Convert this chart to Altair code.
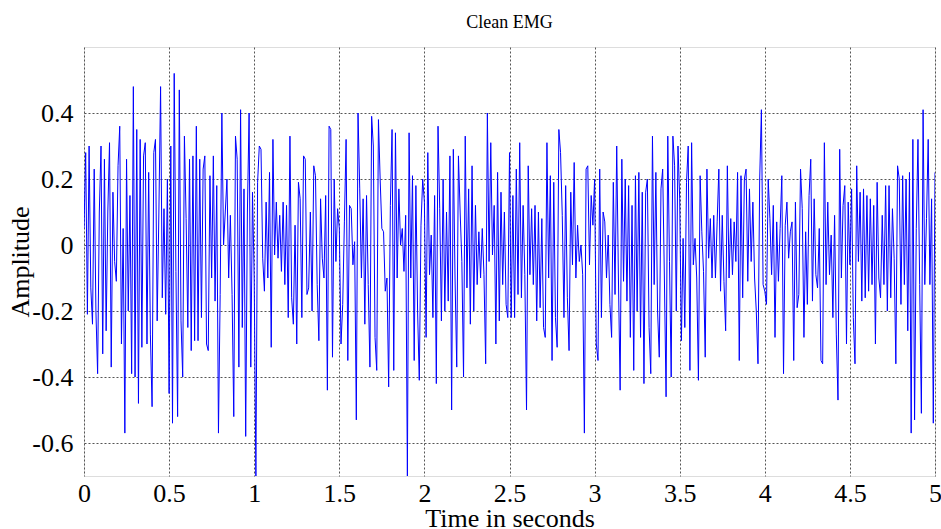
import numpy as np
import pandas as pd
import altair as alt

# Amplitude samples, 0.01 s apart, one list per half second
amp_00_05 = [0.05, 0.28, -0.21, 0.30, -0.13, -0.24, 0.23, -0.20, -0.39, 0.10,
             0.30, -0.33, 0.26, -0.26, 0.10, 0.31, -0.37, 0.16, -0.05, -0.11,
             0.24, 0.36, -0.30, 0.05, -0.57, 0.26, -0.20, 0.15, -0.39, 0.48,
             -0.40, 0.35, -0.48, 0.32, -0.31, 0.27, 0.31, -0.30, 0.22, -0.27,
             -0.49, 0.28, 0.32, -0.23, 0.10, 0.48, -0.16, 0.11, -0.21, 0.20]
amp_05_10 = [-0.45, 0.30, -0.54, 0.52, -0.08, -0.52, 0.47, -0.23, -0.40, 0.33,
             0.08, -0.25, 0.26, -0.32, 0.27, -0.29, 0.36, -0.29, 0.26, -0.22,
             0.23, 0.27, -0.30, -0.32, 0.21, -0.10, 0.27, -0.17, 0.18, -0.57,
             -0.15, 0.40, 0.00, 0.10, 0.20, -0.10, 0.09, -0.15, -0.52, 0.33,
             0.26, -0.37, 0.41, -0.25, 0.17, -0.58, 0.10, 0.40, -0.37, 0.16]
amp_10_15 = [-0.10, -0.70, 0.19, 0.30, 0.29, -0.04, -0.14, 0.13, -0.10, 0.22,
             -0.31, 0.32, -0.03, 0.13, -0.04, 0.09, -0.08, 0.13, -0.12, 0.12,
             -0.22, 0.33, -0.16, -0.24, 0.06, -0.30, 0.19, 0.14, -0.22, 0.27,
             0.26, -0.15, -0.13, 0.10, -0.20, 0.24, 0.21, -0.12, -0.29, 0.14,
             -0.04, -0.10, 0.15, -0.44, 0.36, 0.35, -0.34, 0.20, -0.05, 0.11]
amp_15_20 = [0.05, -0.30, -0.18, 0.07, 0.32, -0.35, 0.12, 0.11, -0.06, 0.01,
             -0.53, 0.40, 0.17, -0.10, 0.14, -0.24, 0.15, -0.12, -0.37, 0.39,
             0.30, -0.28, -0.38, 0.38, 0.20, 0.05, 0.04, -0.14, -0.10, -0.43,
             0.12, 0.35, -0.38, 0.34, -0.10, 0.17, 0.00, 0.05, -0.08, 0.09,
             -0.70, 0.34, -0.10, 0.21, -0.35, 0.18, -0.20, -0.41, 0.06, 0.20]
amp_20_25 = [0.13, -0.28, 0.28, -0.09, 0.03, -0.22, 0.15, -0.42, 0.36, 0.11,
             -0.23, 0.20, -0.20, 0.10, -0.17, 0.27, -0.50, 0.29, -0.10, -0.37,
             0.27, 0.10, -0.05, -0.40, 0.33, -0.13, 0.17, -0.24, 0.24, -0.20,
             0.12, -0.12, 0.04, -0.10, 0.05, -0.09, -0.36, 0.40, -0.05, 0.31,
             -0.03, 0.12, -0.30, 0.22, -0.23, 0.16, -0.12, 0.10, -0.18, -0.22]
amp_25_30 = [0.28, -0.22, 0.15, -0.22, 0.23, -0.15, 0.31, -0.16, 0.12, -0.09,
             -0.50, 0.24, -0.09, 0.11, -0.12, 0.12, -0.23, 0.10, -0.19, 0.08,
             -0.25, -0.28, 0.31, -0.10, 0.21, -0.35, 0.19, -0.22, -0.31, 0.35,
             0.28, 0.09, -0.22, 0.18, -0.16, -0.32, 0.16, -0.06, 0.25, -0.10,
             0.06, -0.05, 0.00, -0.09, -0.57, 0.23, 0.24, -0.06, 0.15, 0.06]
amp_30_35 = [0.20, -0.30, -0.35, 0.23, -0.22, 0.10, 0.07, -0.10, 0.03, -0.18,
             -0.28, 0.19, -0.15, 0.30, -0.10, -0.44, 0.26, -0.11, 0.20, -0.17,
             0.18, -0.28, 0.12, -0.38, 0.21, -0.20, 0.22, -0.28, 0.16, -0.42,
             0.16, 0.20, -0.25, -0.39, 0.33, -0.12, 0.22, -0.20, -0.34, 0.17,
             0.23, -0.10, -0.46, 0.33, -0.05, -0.40, 0.33, 0.24, -0.20, 0.30]
amp_35_40 = [0.14, -0.29, 0.02, -0.25, 0.19, 0.30, -0.38, 0.31, -0.06, 0.02,
             -0.10, -0.41, 0.21, 0.04, -0.08, -0.34, 0.23, -0.04, 0.08, -0.10,
             0.09, -0.10, 0.07, 0.23, -0.14, 0.09, -0.11, -0.26, 0.24, -0.10,
             0.08, -0.09, 0.07, -0.05, 0.22, -0.35, 0.21, -0.16, 0.20, 0.23,
             -0.11, 0.17, -0.05, 0.13, -0.10, -0.20, -0.36, 0.20, 0.41, -0.12]
amp_40_45 = [-0.14, -0.18, 0.20, 0.08, -0.09, 0.12, -0.28, 0.07, -0.11, 0.05,
             0.21, -0.39, 0.06, 0.13, -0.04, 0.04, 0.07, -0.35, 0.13, -0.19,
             -0.15, 0.23, 0.11, -0.28, 0.04, -0.18, 0.15, 0.26, -0.17, 0.14,
             -0.09, -0.13, 0.05, -0.35, -0.36, 0.31, -0.12, 0.13, -0.09, 0.03,
             -0.22, 0.09, -0.27, -0.47, 0.29, -0.10, 0.12, 0.18, -0.30, 0.13]
amp_45_50 = [-0.06, 0.17, -0.22, -0.36, 0.24, -0.05, 0.16, -0.17, 0.17, -0.16,
             0.15, -0.14, 0.14, -0.12, 0.12, -0.30, 0.19, -0.10, -0.16, 0.09,
             -0.12, 0.18, -0.20, 0.18, -0.16, 0.11, -0.04, -0.36, 0.24, 0.20,
             -0.18, 0.21, -0.12, 0.20, -0.26, 0.22, -0.57, 0.32, -0.53, 0.05,
             0.32, -0.12, -0.51, 0.41, -0.12, 0.08, 0.32, -0.12, 0.14, -0.54,
             0.22]

x_ticks = [0, 0.5, 1, 1.5, 2, 2.5, 3, 3.5, 4, 4.5, 5]
y_ticks = [-0.6, -0.4, -0.2, 0, 0.2, 0.4]
sample_step = 0.01

amplitude = (amp_00_05 + amp_05_10 + amp_10_15 + amp_15_20 + amp_20_25 +
             amp_25_30 + amp_30_35 + amp_35_40 + amp_40_45 + amp_45_50)
df = pd.DataFrame({
    "t": np.arange(len(amplitude)) * sample_step,
    "v": amplitude,
})

SERIF = "Liberation Serif"

chart = alt.Chart(df).mark_line(
    color="#0000ff", strokeWidth=1, clip=True
).encode(
    x=alt.X(
        "t:Q",
        scale=alt.Scale(domain=[0, 5], nice=False, zero=False),
        axis=alt.Axis(
            values=x_ticks,
            labelExpr="toString(datum.value)",
            labelFont=SERIF, labelFontSize=26, labelColor="black",
            labelPadding=4, labelOverlap=False, labelFlush=False,
            ticks=False, domain=False,
            grid=True, gridDash=[2, 2], gridColor="#555555", gridWidth=1,
            title="Time in seconds", titleFont=SERIF, titleFontSize=26,
            titleFontWeight="normal", titleColor="black",
            titleBaseline="alphabetic", titleY=50,
        ),
    ),
    y=alt.Y(
        "v:Q",
        scale=alt.Scale(domain=[-0.7, 0.6], nice=False, zero=False),
        axis=alt.Axis(
            values=y_ticks,
            labelExpr="toString(round(datum.value*10)/10)",
            labelFont=SERIF, labelFontSize=26, labelColor="black",
            labelPadding=11, labelOverlap=False, labelFlush=False,
            ticks=False, domain=False,
            grid=True, gridDash=[2, 2], gridColor="#555555", gridWidth=1,
            title="Amplitude", titleFont=SERIF, titleFontSize=26,
            titleFontWeight="normal", titleColor="black",
            titleAngle=270, titleAlign="center", titleBaseline="alphabetic",
            titleX=-56, titleY=214.5,
        ),
    ),
).properties(
    width=851,
    height=429,
    title=alt.TitleParams(
        "Clean EMG", font=SERIF, fontSize=18, fontWeight="normal",
        color="black", anchor="middle", baseline="alphabetic", offset=1,
    ),
    autosize=alt.AutoSizeParams(type="none"),
    padding={"left": 84, "top": 47, "right": 6, "bottom": 53},
).configure_view(
    stroke="#888888", strokeWidth=1.2
).configure(background="white")

chart.save("out.html", embed_options={"renderer": "svg", "actions": False})
